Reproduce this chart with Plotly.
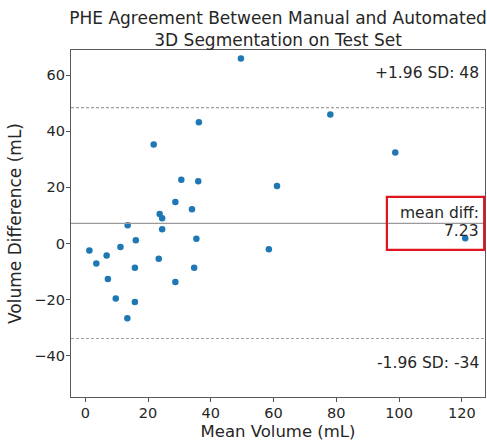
import plotly.graph_objects as go

# Data
mean_volume = [1.3, 3.5, 6.8, 7.2, 9.7, 11.2, 13.5, 13.4, 16.1, 15.8, 15.8, 23.4, 23.7, 24.5, 24.5,
               28.7, 28.7, 30.6, 34.0, 34.7, 35.4, 36.0, 58.5, 61.1, 49.6, 36.2, 21.8, 78.1, 98.8, 121.1]
volume_diff = [-2.5, -7.1, -4.2, -12.6, -19.5, -1.2, 6.5, -26.6, 1.2, -8.6, -20.8, -5.4, 10.5, 9.0, 5.1,
               14.8, -13.7, 22.7, 12.2, -8.6, 1.7, 22.2, -2.0, 20.5, 65.9, 43.2, 35.3, 45.9, 32.4, 1.9]

mean_diff = 7.23
upper_loa = 48.4
lower_loa = -33.8
upper_label = "+1.96 SD: 48"
lower_label = "-1.96 SD: -34"
mean_label_1 = "mean diff:"
mean_label_2 = "7.23"

x_ticks = [0, 20, 40, 60, 80, 100, 120]
y_ticks = [-40, -20, 0, 20, 40, 60]

TXT = "#262626"
FONT = "DejaVu Sans"

fig = go.Figure()
fig.add_trace(go.Scatter(
    x=mean_volume, y=volume_diff, mode="markers",
    marker=dict(color="#1f77b4", size=6.5, line=dict(width=0)),
    showlegend=False, hoverinfo="skip"))

# reference lines
fig.add_shape(type="line", xref="paper", x0=0, x1=1, yref="y", y0=mean_diff, y1=mean_diff,
              line=dict(color="#9a9a9a", width=1.3))
for v in (upper_loa, lower_loa):
    fig.add_shape(type="line", xref="paper", x0=0, x1=1, yref="y", y0=v, y1=v,
                  line=dict(color="#a0a0a0", width=1.1, dash="3px,2px"))

# red highlight box
fig.add_shape(type="rect", xref="paper", yref="paper", x0=0.763, x1=0.998, y0=0.424, y1=0.577,
              line=dict(color="#e0141e", width=2.2), fillcolor="rgba(0,0,0,0)", layer="above")

ann_font = dict(family=FONT, size=15.5, color=TXT)
fig.add_annotation(xref="paper", yref="y", x=0.99, y=60.8, text=upper_label, showarrow=False,
                   xanchor="right", yanchor="middle", font=ann_font)
fig.add_annotation(xref="paper", yref="y", x=0.99, y=-42.5, text=lower_label, showarrow=False,
                   xanchor="right", yanchor="middle", font=ann_font)
fig.add_annotation(xref="paper", yref="y", x=0.99, y=11.0, text=mean_label_1, showarrow=False,
                   xanchor="right", yanchor="middle", font=ann_font)
fig.add_annotation(xref="paper", yref="y", x=0.99, y=4.5, text=mean_label_2, showarrow=False,
                   xanchor="right", yanchor="middle", font=ann_font)

fig.update_layout(
    width=487, height=441,
    margin=dict(l=71, r=2, t=50, b=44),
    paper_bgcolor="white", plot_bgcolor="white",
    font=dict(family=FONT, color=TXT),
    title=dict(text="PHE Agreement Between Manual and Automated<br>3D Segmentation on Test Set",
               x=0.571, xanchor="center", y=0.9465, yanchor="top", yref="container",
               font=dict(family=FONT, size=17, color=TXT)),
    xaxis=dict(range=[-4.56, 127.4], tickvals=x_ticks, ticks="outside", ticklen=4, tickwidth=1,
               tickcolor="#555", showline=True, mirror=True, linecolor="#5a5a5a", linewidth=1.4,
               showgrid=False, zeroline=False, tickfont=dict(family=FONT, size=14.5, color=TXT),
               ticklabelstandoff=-2,
               title=dict(text="Mean Volume (mL)", standoff=5, font=dict(family=FONT, size=16.5, color=TXT))),
    yaxis=dict(range=[-54.6, 68.9], tickvals=y_ticks, ticks="outside", ticklen=4, tickwidth=1,
               tickcolor="#555", showline=True, mirror=True, linecolor="#5a5a5a", linewidth=1.4,
               showgrid=False, zeroline=False, tickfont=dict(family=FONT, size=14.5, color=TXT),
               ticklabelstandoff=-2,
               title=dict(text="Volume Difference (mL)", standoff=8, font=dict(family=FONT, size=17, color=TXT))),
)

fig.write_html("out.html", config={"displayModeBar": False})

# remove default page margin so the figure fills the window exactly
with open("out.html", "r", encoding="utf-8") as f:
    html = f.read()
html = html.replace("<head>", "<head><style>html,body{margin:0;padding:0;overflow:hidden;}</style>", 1)
with open("out.html", "w", encoding="utf-8") as f:
    f.write(html)
